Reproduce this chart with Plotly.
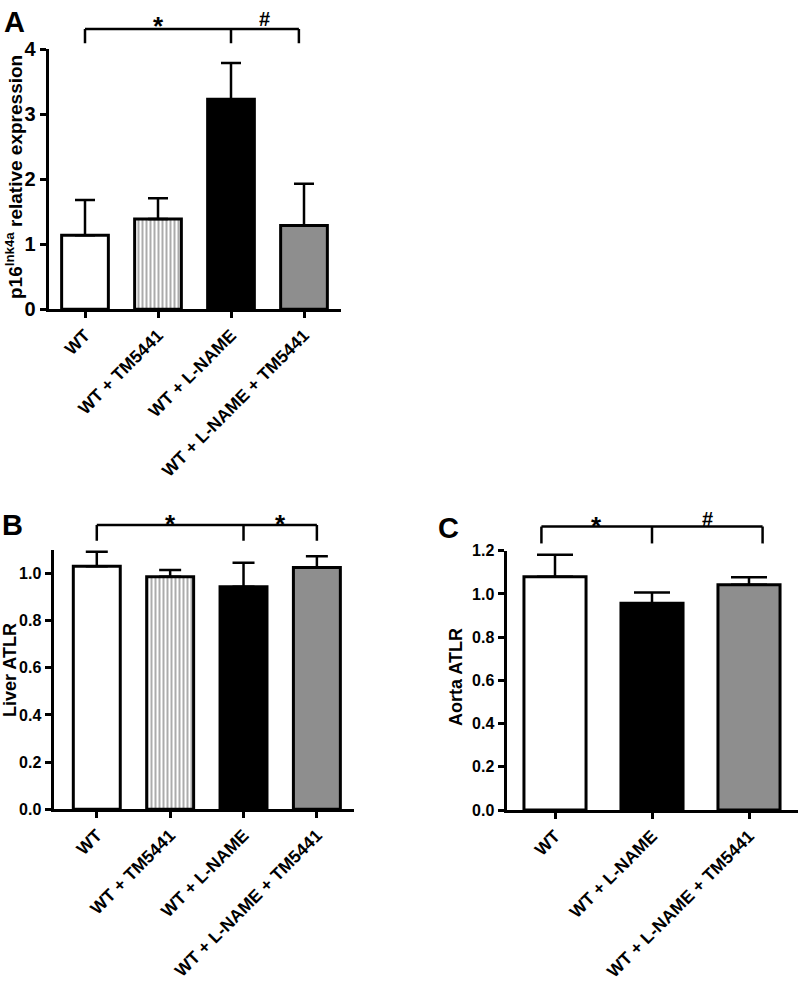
import plotly.graph_objects as go

# ---------------- data ----------------
cats_a = ["WT", "WT + TM5441", "WT + L-NAME", "WT + L-NAME + TM5441"]
mean_a = [1.14, 1.39, 3.23, 1.29]
sem_a = [0.54, 0.32, 0.56, 0.64]

cats_b = ["WT", "WT + TM5441", "WT + L-NAME", "WT + L-NAME + TM5441"]
mean_b = [1.03, 0.985, 0.943, 1.025]
sem_b = [0.061, 0.029, 0.102, 0.047]

cats_c = ["WT", "WT + L-NAME", "WT + L-NAME + TM5441"]
mean_c = [1.08, 0.957, 1.042]
sem_c = [0.101, 0.049, 0.035]

fill_a = ["white", "white", "black", "#8e8e8e"]
pattern_a = ["", "|", "", ""]
fill_c = ["white", "black", "#8e8e8e"]
pattern_c = ["", "", ""]

# significance brackets: (left, middle, right) in category units, labels
brk_a = [0.0, 2.0, 2.93]; sig_a = ["*", "#"]
brk_b = [0.0, 2.0, 3.0]; sig_b = ["*", "*"]
brk_c = [-0.14, 1.0, 2.14]; sig_c = ["*", "#"]

FONT = "Liberation Sans, Arial, Helvetica, sans-serif"
W, H = 800, 982

def px_x(p):
    return p / W

def px_y(p):
    return 1 - p / H

fig = go.Figure()

def add_bar(cats, mean, sem, fills, patterns, xa, ya, cap):
    fig.add_trace(go.Bar(
        x=cats, y=mean, xaxis=xa, yaxis=ya, width=0.64,
        marker=dict(color=fills, line=dict(color="black", width=3),
                    pattern=dict(shape=patterns, fgcolor="black", bgcolor="white",
                                 fillmode="overlay", size=4, solidity=0.45)),
        error_y=dict(type="data", symmetric=False, array=sem,
                     arrayminus=[0] * len(sem), color="black",
                     thickness=2.5, width=cap),
        showlegend=False, hoverinfo="skip"))

add_bar(cats_a, mean_a, sem_a, fill_a, pattern_a, "x", "y", 10)
add_bar(cats_b, mean_b, sem_b, fill_a, pattern_a, "x2", "y2", 11)
add_bar(cats_c, mean_c, sem_c, fill_c, pattern_c, "x3", "y3", 18)

axis_common = dict(showline=True, linecolor="black", linewidth=3, ticks="outside",
                   tickcolor="black", tickwidth=2.5, ticklen=6, showgrid=False,
                   zeroline=False, fixedrange=True, automargin=False)

xt = dict(family=FONT, size=17.5, color="black", weight="bold")

fig.update_layout(
    width=W, height=H, margin=dict(l=0, r=0, t=0, b=0, autoexpand=False),
    template="none",
    paper_bgcolor="white", plot_bgcolor="white", bargap=0.3,
    xaxis=dict(domain=[px_x(48.5), px_x(340.5)], range=[-0.5, 3.5], anchor="y",
               tickangle=-45, tickfont=xt, **axis_common),
    yaxis=dict(domain=[px_y(309.3), px_y(49.3)], range=[0, 4], anchor="x",
               dtick=1, tickfont=dict(family=FONT, size=20, color="black", weight="bold"),
               **axis_common),
    xaxis2=dict(domain=[px_x(53.5), px_x(354.3)], range=[-0.59, 3.51], anchor="y2",
                tickangle=-45, tickfont=xt, **axis_common),
    yaxis2=dict(domain=[px_y(809.3), px_y(549.7)], range=[0, 1.1], anchor="x2",
                tickvals=[0, 0.2, 0.4, 0.6, 0.8, 1.0], tickformat=".1f",
                tickfont=dict(family=FONT, size=16, color="black", weight="bold"),
                **axis_common),
    xaxis3=dict(domain=[px_x(506.5), px_x(797.5)], range=[-0.5, 2.5], anchor="y3",
                tickangle=-45, tickfont=xt, **axis_common),
    yaxis3=dict(domain=[px_y(810), px_y(550.7)], range=[0, 1.2], anchor="x3",
                dtick=0.2, tickformat=".1f",
                tickfont=dict(family=FONT, size=16, color="black", weight="bold"),
                **axis_common),
)

def bracket(xa, ya, brk, sigs, y_line, y_end, y_txt):
    xr, yr = xa, ya + " domain"
    line = dict(color="black", width=2.5)
    fig.add_shape(type="line", xref=xr, yref=yr, x0=brk[0], x1=brk[2], y0=y_line, y1=y_line, line=line)
    for xv in brk:
        fig.add_shape(type="line", xref=xr, yref=yr, x0=xv, x1=xv, y0=y_line, y1=y_end, line=line)
    mids = [(brk[0] + brk[1]) / 2, (brk[1] + brk[2]) / 2]
    for m, s in zip(mids, sigs):
        if s == "*":
            fig.add_annotation(x=m, y=y_txt, xref=xr, yref=yr, text="*", showarrow=False,
                               yanchor="middle", yshift=-7,
                               font=dict(family=FONT, size=26, color="black", weight="bold"))
        else:
            fig.add_annotation(x=m, y=y_txt, xref=xr, yref=yr, text="#", showarrow=False,
                               yanchor="middle", yshift=0,
                               font=dict(family=FONT, size=20, color="black", weight="bold"))

bracket("x", "y", brk_a, sig_a, 1.078, 1.023, 1.115)
bracket("x2", "y2", brk_b, sig_b, 1.095, 1.034, 1.125)
bracket("x3", "y3", brk_c, sig_c, 1.093, 1.028, 1.123)

def label(text, x, y, size, angle=0):
    fig.add_annotation(x=px_x(x), y=px_y(y), xref="paper", yref="paper", text=text,
                       showarrow=False, textangle=angle, xanchor="center", yanchor="middle",
                       font=dict(family=FONT, size=size, color="black", weight="bold"))

label("A", 14, 22, 29)
label("B", 12, 525, 29)
label("C", 448, 528, 29)
label("p16<sup>Ink4a</sup> relative expression", 14, 177, 19, -90)
label("Liver ATLR", 10, 670, 18, -90)
label("Aorta ATLR", 456, 677, 18, -90)

fig.write_html("out.html", config={"displayModeBar": False},
               post_script="document.body.style.margin='0';document.body.style.overflow='hidden';")
